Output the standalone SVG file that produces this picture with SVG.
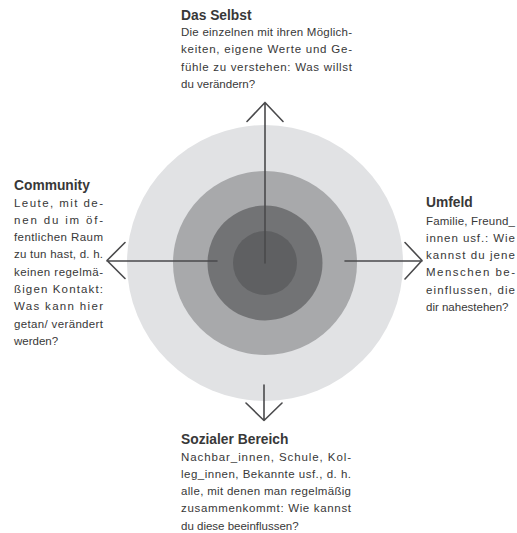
<svg xmlns="http://www.w3.org/2000/svg" width="517" height="533" viewBox="0 0 517 533">
<style>
.t{font-family:"Liberation Sans",Arial,sans-serif;font-size:13.8px;font-weight:bold;fill:#383838}
.b{font-family:"Liberation Sans",Arial,sans-serif;font-size:11.5px;fill:#383838}
.ln{stroke:#4a4a4c;stroke-width:1.6;fill:none;stroke-linecap:round;stroke-linejoin:round}
</style>
<rect width="517" height="533" fill="#ffffff"/>
<g id="rings">
<circle cx="265" cy="263" r="138" fill="#e1e2e4"/>
<circle cx="265" cy="263" r="92" fill="#a8a9ab"/>
<circle cx="265" cy="263" r="57.5" fill="#727375"/>
<circle cx="265" cy="263" r="32" fill="#5f6062"/>
</g>
<g id="connectors">
<path class="ln" d="M265,263 V102.5 M247,121.5 L265,102.5 L283,121.5"/>
<path class="ln" d="M217,261 H107 M125,242.5 L107,260.5 L125,278.5"/>
<path class="ln" d="M345,261 H422 M405,242.5 L422,260.5 L405,279"/>
<path class="ln" d="M264,385 V420.5 M246,403 L264,420.5 L282,403"/>
</g>
<g id="selbst">
<text class="t" x="181" y="20">Das Selbst</text>
<text class="b" x="181" y="36" textLength="171" lengthAdjust="spacing">Die einzelnen mit ihren Möglich-</text>
<text class="b" x="181" y="53.3" textLength="171" lengthAdjust="spacing">keiten, eigene Werte und Ge-</text>
<text class="b" x="181" y="70.6" textLength="171" lengthAdjust="spacing">fühle zu verstehen: Was willst</text>
<text class="b" x="181" y="87.9">du verändern?</text>
</g>
<g id="community">
<text class="t" x="14" y="190">Community</text>
<text class="b" x="14" y="206.5" textLength="89" lengthAdjust="spacing">Leute, mit de-</text>
<text class="b" x="14" y="223.8" textLength="89" lengthAdjust="spacing">nen du im öf-</text>
<text class="b" x="14" y="241.1" textLength="89" lengthAdjust="spacing">fentlichen Raum</text>
<text class="b" x="14" y="258.4" textLength="89" lengthAdjust="spacing">zu tun hast, d. h.</text>
<text class="b" x="14" y="275.7" textLength="89" lengthAdjust="spacing">keinen regelmä-</text>
<text class="b" x="14" y="293" textLength="89" lengthAdjust="spacing">ßigen Kontakt:</text>
<text class="b" x="14" y="310.3" textLength="89" lengthAdjust="spacing">Was kann hier</text>
<text class="b" x="14" y="327.6" textLength="89" lengthAdjust="spacing">getan/ verändert</text>
<text class="b" x="14" y="344.9">werden?</text>
</g>
<g id="umfeld">
<text class="t" x="426" y="207">Umfeld</text>
<text class="b" x="426" y="224.5" textLength="89" lengthAdjust="spacing">Familie, Freund_</text>
<text class="b" x="426" y="241.8" textLength="89" lengthAdjust="spacing">innen usf.: Wie</text>
<text class="b" x="426" y="259.1" textLength="89" lengthAdjust="spacing">kannst du jene</text>
<text class="b" x="426" y="276.4" textLength="89" lengthAdjust="spacing">Menschen be-</text>
<text class="b" x="426" y="293.7" textLength="89" lengthAdjust="spacing">einflussen, die</text>
<text class="b" x="426" y="311">dir nahestehen?</text>
</g>
<g id="sozial">
<text class="t" x="181" y="444">Sozialer Bereich</text>
<text class="b" x="181" y="460.5" textLength="170" lengthAdjust="spacing">Nachbar_innen, Schule, Kol-</text>
<text class="b" x="181" y="477.8" textLength="170" lengthAdjust="spacing">leg_innen, Bekannte usf., d. h.</text>
<text class="b" x="181" y="495.1" textLength="170" lengthAdjust="spacing">alle, mit denen man regelmäßig</text>
<text class="b" x="181" y="512.4" textLength="170" lengthAdjust="spacing">zusammenkommt: Wie kannst</text>
<text class="b" x="181" y="529.7">du diese beeinflussen?</text>
</g>
</svg>
